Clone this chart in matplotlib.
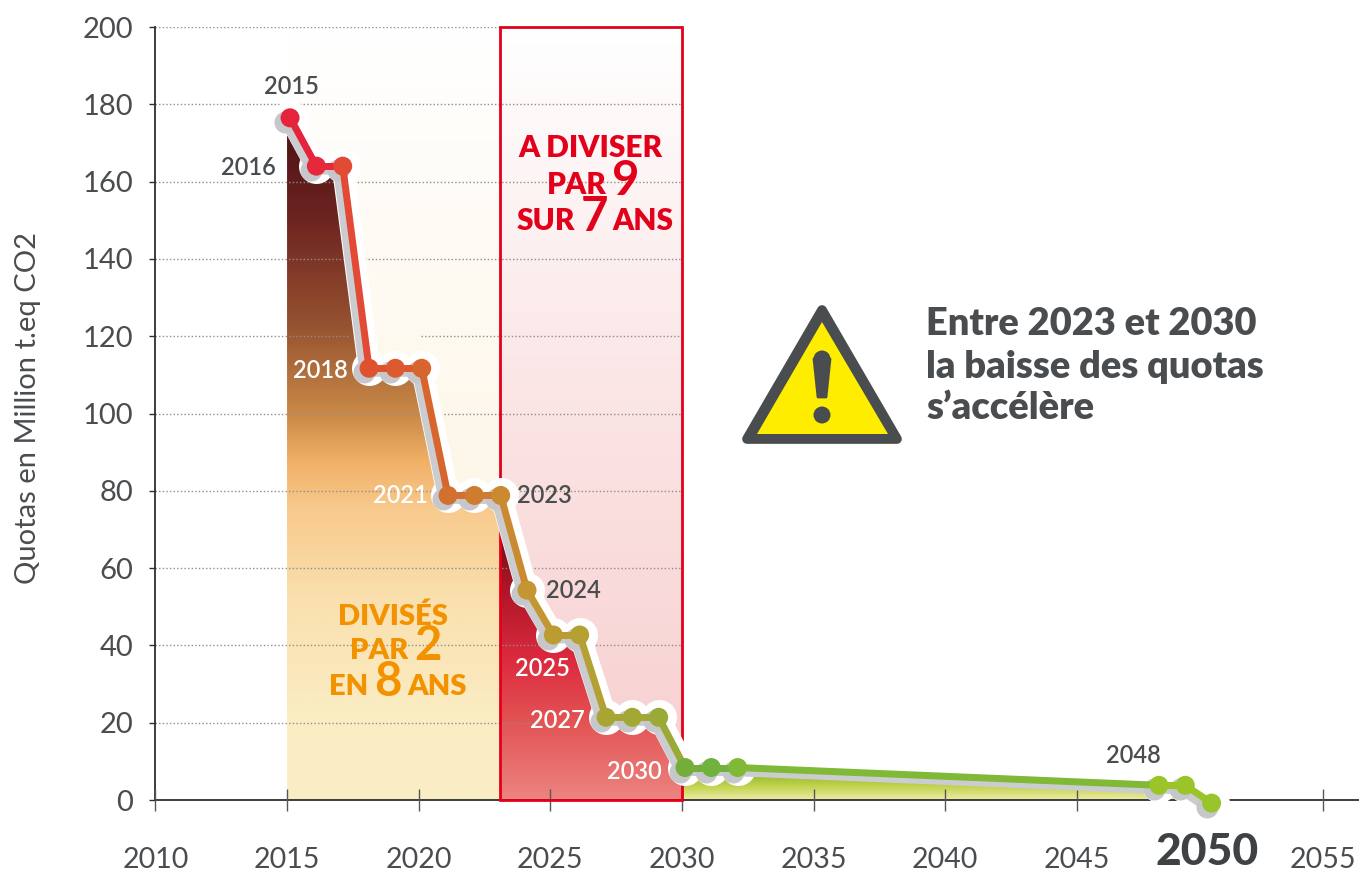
import numpy as np
import matplotlib
matplotlib.use("Agg")
import matplotlib.pyplot as plt
from matplotlib.colors import LinearSegmentedColormap as LSC
from matplotlib.patches import Polygon, Circle, Rectangle
from matplotlib.transforms import Affine2D

years = [2015, 2016, 2017, 2018, 2019, 2020, 2021, 2022, 2023, 2024, 2025, 2026, 2027, 2028, 2029,
         2030, 2031, 2032, 2048, 2049, 2050]
quotas = [176.5, 164, 164, 111.7, 111.7, 111.7, 78.8, 78.8, 78.8, 54.3, 42.7, 42.7, 21.4, 21.4, 21.4,
          8.4, 8.4, 8.4, 3.8, 3.8, -0.8]
point_colors = ['#E6233C', '#E5293A', '#E24A35', '#DF5230', '#DD5A30', '#D8642E', '#D4702F', '#CF7C30', '#CB8A30',
                '#C49632', '#BC9C30', '#B4A033', '#A8A533', '#A2A735', '#9BA936',
                '#74AE3A', '#6FB23D', '#7FB935', '#9AC428', '#9AC428', '#9AC42C']
xticks = [2010, 2015, 2020, 2025, 2030, 2035, 2040, 2045, 2054.34]
xticklabels = ['2010', '2015', '2020', '2025', '2030', '2035', '2040', '2045', '2055']
yticks = list(range(0, 201, 20))

DARK = '#4A4D50'
RED = '#E2001A'
ORANGE = '#F39200'
W, H = 1359, 871
plt.rcParams['font.family'] = ['Lato', 'DejaVu Sans']

fig = plt.figure(figsize=(W / 100, H / 100), dpi=100)
ax = fig.add_axes([155.4 / W, 1 - 800 / H, (W - 155.4) / W, 773 / H])
PX = Affine2D().scale(1, -1).translate(0, H)

for s in ['top', 'right']:
    ax.spines[s].set_visible(False)
for s in ['left', 'bottom']:
    ax.spines[s].set_color('#2E2E2E')
    ax.spines[s].set_linewidth(1.3)
    ax.spines[s].set_zorder(1.5)
ax.set_xticks(xticks, xticklabels)
ax.set_yticks(yticks)
ax.tick_params(axis='x', direction='inout', length=16, width=1, color='#55585A', pad=26,
               labelsize=20.5, labelcolor=DARK)
ax.tick_params(axis='y', direction='out', length=4, width=1, color='#2E2E2E', pad=12,
               labelsize=21, labelcolor=DARK)
ax.set_ylabel('Quotas en Million t.eq CO2', fontsize=21, color=DARK)
ax.yaxis.set_label_coords(41, H - 408, transform=Affine2D())


def grad(x0, x1, y0, y1, stops, clip=None, z=1):
    cm = LSC.from_list('g', stops)
    im = ax.imshow(np.linspace(0, 1, 256)[:, None], cmap=cm, extent=[x0, x1, y1, y0], origin='upper',
                   aspect='auto', zorder=z, interpolation='bilinear')
    if clip is not None:
        p = Polygon(clip, closed=True, transform=ax.transData, fc='none', ec='none')
        ax.add_patch(p)
        im.set_clip_path(p)
    return im


yrs = np.array(years, float)
q = np.clip(np.array(quotas), 0, None)
BOX0 = 2023.08

# pale background zones
grad(2015, BOX0, 200, 0, [(0, '#FFFFFF'), (0.5, '#FEF8EC'), (1, '#FDF3DC')], z=1)
grad(BOX0, 2030, 200, 0, [(0, '#FFFFFF'), (0.5, '#FBE4E4'), (1, '#F7CECE')], z=1)

# filled area under the curve
i1 = years.index(2023)
i2 = years.index(2030)
left = [(2015, 0)] + list(zip(yrs[:i1 + 1], q[:i1 + 1])) + [(BOX0, q[i1]), (BOX0, 0)]
grad(2015, BOX0, 172, 0, [(0, '#501414'), (0.12, '#6C2320'), (0.28, '#94502F'), (0.42, '#C98A48'),
                          (0.49, '#F0B066'), (0.56, '#F8C98C'), (0.7, '#FAE0AE'), (0.88, '#FAEDC4'),
                          (1, '#FAEEC6')], clip=left, z=1.1)
mid = [(BOX0, 0)] + [(BOX0, q[i1])] + list(zip(yrs[i1 + 1:i2 + 1], q[i1 + 1:i2 + 1])) + [(2030, 0)]
grad(BOX0, 2030, 70, 0, [(0, '#6E0D15'), (0.2, '#A81526'), (0.48, '#DC2A3E'), (0.72, '#E35555'),
                         (1, '#EC8480')], clip=mid, z=1.1)
right = [(2030, 0)] + list(zip(yrs[i2:-1], q[i2:-1])) + [(2049.6, 0)]
grad(2030, 2050, 7, 0, [(0, '#8DB81E'), (0.55, '#C6D555'), (1, '#EDEBA8')], clip=right, z=1.1)

ax.set_xlim(2010, 2010 + (W - 155.4) / 26.33)
ax.set_ylim(0, 200)

# dotted grid with interruptions
gaps = {120: [(2017.3, 2020.1)]}
for y in yticks[1:]:
    start = 2010
    for a, b in gaps.get(y, []):
        ax.plot([start, a], [y, y], color='#8E8E8E', lw=1, ls=(0, (1, 1.6)), zorder=1.3)
        start = b
    end = 2024.6 if y == 20 else 2030
    ax.plot([start, end], [y, y], color='#8E8E8E', lw=1, ls=(0, (1, 1.6)), zorder=1.3)

# red box
ax.add_patch(Rectangle((BOX0, 0), 2030 - BOX0, 200, fc='none', ec=RED, lw=2, zorder=1.6, clip_on=False))

# curve with halo, shadow and coloured line
off = ax.transData + Affine2D().translate(3, 0)
shadow = ax.transData + Affine2D().translate(-2, -4)
pt = 72 / 100
ax.plot(yrs[:-3], quotas[:-3], color='white', lw=22 * pt, solid_capstyle='round', solid_joinstyle='round',
        transform=off, zorder=2, clip_on=False)
ax.plot(yrs, quotas, ls='none', marker='o', ms=35 * pt, mfc='white', mec='none', transform=off, zorder=2,
        clip_on=False)
ax.plot(yrs, quotas, color='#CBCCCF', lw=9 * pt, solid_joinstyle='round', transform=shadow, zorder=2.1,
        clip_on=False)
ax.plot(yrs, quotas, ls='none', marker='o', ms=22 * pt, mfc='#C6C7CA', mec='none', transform=shadow, zorder=2.1,
        clip_on=False)
for i in range(len(years) - 1):
    ax.plot(yrs[i:i + 2], quotas[i:i + 2], color=point_colors[i], lw=7 * pt, solid_capstyle='round',
            transform=off, zorder=2.2, clip_on=False)
ax.scatter(yrs, quotas, s=(19 * pt) ** 2, c=point_colors, transform=off, zorder=2.3, linewidths=0, clip_on=False)


def t(x, y, s, size, color=DARK, weight='normal', ha='center', va='center', z=5):
    return ax.text(x, y, s, fontsize=size, color=color, fontweight=weight, ha=ha, va=va, transform=PX,
                   zorder=z, clip_on=False)


for x, y, s, c in [(291, 86, '2015', DARK), (248, 167, '2016', DARK), (320, 370, '2018', 'white'),
                   (400, 495, '2021', 'white'), (544, 495, '2023', DARK), (573, 590, '2024', DARK),
                   (542, 668, '2025', 'white'), (557, 720, '2027', 'white'), (634, 771, '2030', 'white'),
                   (1133, 755, '2048', DARK)]:
    t(x, y, s, 17, c, 'semibold')

t(1207, 852, '2050', 32, '#3F4245', 'black')

# red callout
t(590, 157, 'A DIVISER', 21.5, RED, 'heavy', va='baseline')
t(547, 194, 'PAR', 21.5, RED, 'heavy', ha='left', va='baseline')
t(612, 195, '9', 34, RED, 'bold', ha='left', va='baseline')
t(517, 230, 'SUR', 21.5, RED, 'heavy', ha='left', va='baseline')
t(581, 231, '7', 34, RED, 'bold', ha='left', va='baseline')
t(612, 230, 'ANS', 21.5, RED, 'heavy', ha='left', va='baseline')

# orange callout
t(393, 625, 'DIVISÉS', 21, ORANGE, 'heavy', va='baseline')
t(350, 659, 'PAR', 21, ORANGE, 'heavy', ha='left', va='baseline')
t(414, 660, '2', 34, ORANGE, 'bold', ha='left', va='baseline')
t(329, 695, 'EN', 21, ORANGE, 'heavy', ha='left', va='baseline')
t(374, 696, '8', 34, ORANGE, 'bold', ha='left', va='baseline')
t(407, 695, 'ANS', 21, ORANGE, 'heavy', ha='left', va='baseline')

# warning sign
ax.add_patch(Polygon([(822, 310), (747, 439), (897, 439)], closed=True, fc=DARK, ec=DARK, lw=7, joinstyle='round',
                     transform=PX, zorder=4, clip_on=False))
ax.add_patch(Polygon([(822, 322), (757, 434), (888, 434)], closed=True, fc='#FFED00', ec='none',
                     transform=PX, zorder=4.1, clip_on=False))
ax.add_patch(Polygon([(814, 359), (830, 359), (826, 397), (818, 397)], closed=True, fc=DARK, ec=DARK, lw=2,
                     joinstyle='round', transform=PX, zorder=4.2, clip_on=False))
ax.add_patch(Circle((822, 359), 8.5, fc=DARK, ec='none', transform=PX, zorder=4.2, clip_on=False))
ax.add_patch(Circle((822, 415), 8.5, fc=DARK, ec='none', transform=PX, zorder=4.2, clip_on=False))

for y, s in [(335, 'Entre 2023 et 2030'), (378, 'la baisse des quotas'), (419, 's’accélère')]:
    t(926, y, s, 27.4, DARK, 'heavy', ha='left', va='baseline')

fig.savefig('out.png', dpi=100)
